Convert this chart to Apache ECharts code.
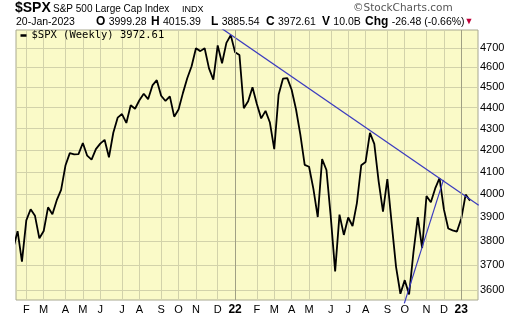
<!DOCTYPE html>
<html><head><meta charset="utf-8">
<script src="https://cdn.jsdelivr.net/npm/echarts@6/dist/echarts.min.js"></script>
<style>html,body{margin:0;padding:0;background:#fff}#c{width:520px;height:318px}</style>
</head><body><div id="c"></div>
<script>
// Weekly closes of $SPX, week ending dates
const weekDates = [
 '2021-01-15','2021-01-22','2021-01-29','2021-02-05','2021-02-12','2021-02-19','2021-02-26','2021-03-05','2021-03-12','2021-03-19','2021-03-26',
 '2021-04-01','2021-04-09','2021-04-16','2021-04-23','2021-04-30','2021-05-07','2021-05-14','2021-05-21','2021-05-28','2021-06-04','2021-06-11',
 '2021-06-18','2021-06-25','2021-07-02','2021-07-09','2021-07-16','2021-07-23','2021-07-30','2021-08-06','2021-08-13','2021-08-20','2021-08-27',
 '2021-09-03','2021-09-10','2021-09-17','2021-09-24','2021-10-01','2021-10-08','2021-10-15','2021-10-22','2021-10-29','2021-11-05','2021-11-12',
 '2021-11-19','2021-11-26','2021-12-03','2021-12-10','2021-12-17','2021-12-23','2021-12-31','2022-01-07','2022-01-14','2022-01-21','2022-01-28',
 '2022-02-04','2022-02-11','2022-02-18','2022-02-25','2022-03-04','2022-03-11','2022-03-18','2022-03-25','2022-04-01','2022-04-08','2022-04-14',
 '2022-04-22','2022-04-29','2022-05-06','2022-05-13','2022-05-20','2022-05-27','2022-06-03','2022-06-10','2022-06-17','2022-06-24','2022-07-01',
 '2022-07-08','2022-07-15','2022-07-22','2022-07-29','2022-08-05','2022-08-12','2022-08-19','2022-08-26','2022-09-02','2022-09-09','2022-09-16',
 '2022-09-23','2022-09-30','2022-10-07','2022-10-14','2022-10-21','2022-10-28','2022-11-04','2022-11-11','2022-11-18','2022-11-25','2022-12-02',
 '2022-12-09','2022-12-16','2022-12-23','2022-12-30','2023-01-06','2023-01-13','2023-01-20'
];
const closes = [
 3768.25,3841.47,3714.24,3886.83,3934.83,3906.71,3811.15,3841.94,3943.34,3913.10,3974.54,
 4019.87,4128.80,4185.47,4180.17,4181.17,4232.60,4173.85,4155.86,4204.11,4229.89,4247.44,
 4166.45,4280.70,4352.34,4369.55,4327.16,4411.79,4395.26,4436.52,4468.00,4441.67,4509.37,
 4535.43,4458.58,4432.99,4455.48,4357.04,4391.34,4471.37,4544.90,4605.38,4697.53,4682.85,
 4697.96,4594.62,4538.43,4712.02,4620.64,4725.79,4766.18,4677.03,4662.85,4397.94,4431.85,
 4500.53,4418.64,4348.87,4384.65,4328.87,4204.31,4463.12,4543.06,4545.86,4488.28,4392.59,
 4271.78,4131.93,4123.34,4023.89,3901.36,4158.24,4108.54,3900.86,3674.84,3911.74,3825.33,
 3899.38,3863.16,3961.63,4130.29,4145.19,4280.15,4228.48,4057.66,3924.26,4067.36,3873.33,
 3693.23,3585.62,3639.66,3583.07,3752.75,3901.06,3770.55,3992.93,3965.34,4026.12,4071.70,
 3934.38,3852.36,3844.82,3839.50,3895.08,3999.09,3972.61
];
// month label positions (index into weekDates) and their labels
const monthTickIdx = [3,7,12,16,20,25,29,34,38,42,47,51,56,60,64,68,73,77,81,86,90,95,99,103];
const monthTickLabels = ['F','M','A','M','J','J','A','S','O','N','D','22','F','M','A','M','J','J','A','S','O','N','D','23'];
const yTickValues = [3600,3700,3800,3900,4000,4100,4200,4300,4400,4500,4600,4700];
// trend lines: [week index, price]
const trendDown = [[48,4800],[107,3952]];
const trendUp = [[89.9,3548],[98.9,4064]];
const seriesName = '$SPX (Weekly) 3972.61';

const priceData = closes.map((v,i)=>[i,v]);
const yearIdx = monthTickIdx.filter((d,k)=>/^\d+$/.test(monthTickLabels[k]));

const FONT = '"Liberation Sans", Arial, sans-serif';
const chart = echarts.init(document.getElementById('c'), null, {renderer:'canvas'});
chart.setOption({
  animation:false,
  backgroundColor:'#fff',
  grid:{left:16,right:42,top:30,bottom:18,show:true,backgroundColor:'#fafac8',borderColor:'#a8a890',borderWidth:1},
  legend:{
    left:20.5, top:30, padding:0, itemWidth:6, itemHeight:2.5, icon:'rect',
    data:[{name:seriesName}],
    textStyle:{fontFamily:'"DejaVu Sans Mono", monospace',fontSize:10.5,color:'#000'}
  },
  xAxis:{
    type:'value', min:0.632, max:106.84,
    axisLine:{show:false},
    axisTick:{show:false,customValues:monthTickIdx},
    axisLabel:{customValues:monthTickIdx,margin:4,fontFamily:FONT,fontSize:11,color:'#000',
      formatter:(v)=>{const k=monthTickIdx.indexOf(Math.round(v));const l=monthTickLabels[k]||'';return /^\d+$/.test(l)?'{b|'+l+'}':l;},
      rich:{b:{fontWeight:'bold',fontFamily:FONT,fontSize:12,color:'#000'}}},
    splitLine:{show:true,lineStyle:{color:'#d2d2aa',width:1}}
  },
  yAxis:{
    type:'log', position:'right', min:3561, max:4793,
    axisLine:{show:false},
    axisTick:{show:false,customValues:yTickValues},
    axisLabel:{customValues:yTickValues,margin:2,fontFamily:FONT,fontSize:11,color:'#000',formatter:(v)=>String(Math.round(v))},
    splitLine:{show:true,lineStyle:{color:'#d2d2aa',width:1}}
  },
  series:[
    {name:seriesName,type:'line',data:priceData,showSymbol:false,symbol:'none',
     lineStyle:{color:'#000',width:1.8},itemStyle:{color:'#000'},clip:true,z:3,
     markLine:{silent:true,symbol:'none',label:{show:false},lineStyle:{color:'#a0a084',width:1,type:'solid'},
       data:yearIdx.map(x=>({xAxis:x}))}},
    {name:'trendDown',type:'line',data:trendDown,showSymbol:false,symbol:'none',
     lineStyle:{color:'#3b3bbf',width:1.2},clip:true,z:4},
    {name:'trendUp',type:'line',data:trendUp,showSymbol:false,symbol:'none',
     lineStyle:{color:'#3b3bbf',width:1.2},clip:false,z:4}
  ],
  graphic:[
    {type:'text',left:15,top:1,style:{text:'$SPX',font:'bold 14px '+FONT,fill:'#000'}},
    {type:'text',left:53,top:4,style:{text:'S&P 500 Large Cap Index',font:'10px '+FONT,fill:'#000'}},
    {type:'text',left:182,top:5,style:{text:'INDX',font:'9px '+FONT,fill:'#000'}},
    {type:'text',left:353,top:3,style:{text:'\u00a9StockCharts.com',font:'10.5px "DejaVu Sans", sans-serif',fill:'#555'}},
    {type:'text',left:16,top:17,style:{text:'20-Jan-2023',font:'10.5px '+FONT,fill:'#000'}},
    {type:'text',left:96,top:16,style:{rich:{k:{font:'bold 12px '+FONT,fill:'#000'},n:{font:'10.5px '+FONT,fill:'#000'}},text:'{k|O} {n|3999.28}'}},
    {type:'text',left:151,top:16,style:{rich:{k:{font:'bold 12px '+FONT,fill:'#000'},n:{font:'10.5px '+FONT,fill:'#000'}},text:'{k|H} {n|4015.39}'}},
    {type:'text',left:211,top:16,style:{rich:{k:{font:'bold 12px '+FONT,fill:'#000'},n:{font:'10.5px '+FONT,fill:'#000'}},text:'{k|L} {n|3885.54}'}},
    {type:'text',left:266,top:16,style:{rich:{k:{font:'bold 12px '+FONT,fill:'#000'},n:{font:'10.5px '+FONT,fill:'#000'}},text:'{k|C} {n|3972.61}'}},
    {type:'text',left:322,top:16,style:{rich:{k:{font:'bold 12px '+FONT,fill:'#000'},n:{font:'10.5px '+FONT,fill:'#000'}},text:'{k|V} {n|10.0B}'}},
    {type:'text',left:365,top:16,style:{rich:{k:{font:'bold 12px '+FONT,fill:'#000'},n:{font:'10.5px '+FONT,fill:'#000'},r:{font:'9px '+FONT,fill:'#c0003a'}},text:'{k|Chg} {n|-26.48 (-0.66%)}{r|\u25bc}'}}
  ]
});
</script></body></html>
